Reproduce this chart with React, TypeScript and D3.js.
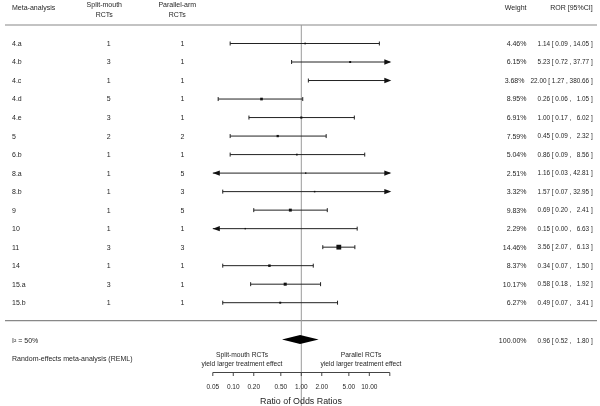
import React, { useEffect, useRef } from 'react';
import * as d3 from 'd3';

const studies = ['4.a', '4.b', '4.c', '4.d', '4.e', '5', '6.b', '8.a', '8.b', '9', '10', '11', '14', '15.a', '15.b'];
const splitMouthRCTs = [1, 3, 1, 5, 3, 2, 1, 1, 1, 1, 1, 3, 1, 3, 1];
const parallelArmRCTs = [1, 1, 1, 1, 1, 2, 1, 5, 3, 5, 1, 3, 1, 1, 1];
const weights = [4.46, 6.15, 3.68, 8.95, 6.91, 7.59, 5.04, 2.51, 3.32, 9.83, 2.29, 14.46, 8.37, 10.17, 6.27];
const estimates = [1.14, 5.23, 22.0, 0.26, 1.0, 0.45, 0.86, 1.16, 1.57, 0.69, 0.15, 3.56, 0.34, 0.58, 0.49];
const lowers = [0.09, 0.72, 1.27, 0.06, 0.17, 0.09, 0.09, 0.03, 0.07, 0.2, 0.0, 2.07, 0.07, 0.18, 0.07];
const uppers = [14.05, 37.77, 380.66, 1.05, 6.02, 2.32, 8.56, 42.81, 32.95, 2.41, 6.63, 6.13, 1.5, 1.92, 3.41];

const summaryWeight = 100.0;
const summaryEstimate = 0.96;
const summaryLower = 0.52;
const summaryUpper = 1.8;
const heterogeneityI2 = 50;

const tickValues = [0.05, 0.1, 0.2, 0.5, 1, 2, 5, 10, 20];
const tickLabels = ['0.05', '0.10', '0.20', '0.50', '1.00', '2.00', '5.00', '10.00', ''];

const FONT = "'Liberation Sans', Arial, Helvetica, sans-serif";
const TXT = '#262626';

function fmtROR(est: number, lo: number, hi: number): string {
  const f = (v: number) => v.toFixed(2);
  const pad = (v: number) => (v < 10 ? '\u2007' : '') + f(v);
  return `${f(est)} [ ${f(lo)} , ${pad(hi)} ]`;
}

export default function App() {
  const ref = useRef<SVGSVGElement | null>(null);

  useEffect(() => {
    document.body.style.margin = '0';
    const svg = d3.select(ref.current);
    svg.selectAll('*').remove();

    const x = d3.scaleLog().domain([0.05, 20]).range([212.8, 389.8]);
    const y = d3.scaleLinear().domain([0, studies.length - 1]).range([43.5, 302.7]);
    const yS = 339.5;
    const [xmin, xmax] = x.domain();

    const g = svg.append('g').attr('font-family', FONT).attr('fill', TXT);

    const rorText = (sel: any, yy: number, s: string) => {
      const t = sel.append('text').attr('x', 592.7).attr('y', yy).attr('dy', '0.35em').attr('text-anchor', 'end')
        .attr('font-size', 6.4).style('white-space', 'pre').text(s);
      return (t.node() as SVGTextElement).getComputedTextLength();
    };

    // headers
    const hdr = g.append('g').attr('font-size', 7).attr('fill', TXT);
    hdr.append('text').attr('x', 12).attr('y', 9.5).text('Meta-analysis');
    hdr.append('text').attr('x', 104.3).attr('y', 6.5).attr('text-anchor', 'middle').text('Split-mouth');
    hdr.append('text').attr('x', 104.3).attr('y', 16.5).attr('text-anchor', 'middle').text('RCTs');
    hdr.append('text').attr('x', 177.3).attr('y', 6.5).attr('text-anchor', 'middle').text('Parallel-arm');
    hdr.append('text').attr('x', 177.3).attr('y', 16.5).attr('text-anchor', 'middle').text('RCTs');
    hdr.append('text').attr('x', 526.5).attr('y', 9.5).attr('text-anchor', 'end').text('Weight');
    hdr.append('text').attr('x', 592.7).attr('y', 9.5).attr('text-anchor', 'end').text('ROR [95%CI]');

    // rules
    g.append('line').attr('x1', 5).attr('x2', 597).attr('y1', 25).attr('y2', 25).attr('stroke', '#888').attr('stroke-width', 1.2);
    g.append('line').attr('x1', 5).attr('x2', 597).attr('y1', 320.7).attr('y2', 320.7).attr('stroke', '#888').attr('stroke-width', 1.2);

    // reference line
    g.append('line').attr('x1', x(1)).attr('x2', x(1)).attr('y1', 25).attr('y2', 406).attr('stroke', '#9a9a9a').attr('stroke-width', 1);

    const size = d3.scalePow().exponent(2).domain([2.29, 14.46]).range([1.4, 4.8]);

    studies.forEach((s, i) => {
      const yy = y(i);
      const row = g.append('g').attr('font-size', 7).attr('fill', TXT);
      row.append('text').attr('x', 12).attr('y', yy).attr('dy', '0.35em').text(s);
      row.append('text').attr('x', 108.7).attr('y', yy).attr('dy', '0.35em').attr('text-anchor', 'middle').text(splitMouthRCTs[i]);
      row.append('text').attr('x', 182.5).attr('y', yy).attr('dy', '0.35em').attr('text-anchor', 'middle').text(parallelArmRCTs[i]);
      const w = rorText(row, yy, fmtROR(estimates[i], lowers[i], uppers[i]));
      const wx = Math.min(526.5, 592.7 - w - 6);
      row.append('text').attr('x', wx).attr('y', yy).attr('dy', '0.35em').attr('text-anchor', 'end').text(weights[i].toFixed(2) + '%');

      // CI
      const lo = Math.max(lowers[i], xmin);
      const hi = Math.min(uppers[i], xmax);
      const x1 = x(lo);
      const x2 = x(hi);
      const ci = g.append('g').attr('stroke', '#222').attr('fill', '#111');
      ci.append('line').attr('x1', x1).attr('x2', x2).attr('y1', yy).attr('y2', yy).attr('stroke-width', 1);
      if (lowers[i] < xmin) {
        ci.append('path').attr('d', `M${x1},${yy}l7,-2.7l0,5.4z`).attr('stroke', 'none');
      } else {
        ci.append('line').attr('x1', x1).attr('x2', x1).attr('y1', yy - 2).attr('y2', yy + 2);
      }
      if (uppers[i] > xmax) {
        ci.append('path').attr('d', `M${x2 + 1.5},${yy}l-7,-2.7l0,5.4z`).attr('stroke', 'none');
      } else {
        ci.append('line').attr('x1', x2).attr('x2', x2).attr('y1', yy - 2).attr('y2', yy + 2);
      }
      if (estimates[i] >= xmin && estimates[i] <= xmax) {
        const sz = size(weights[i]);
        ci.append('rect').attr('x', x(estimates[i]) - sz / 2).attr('y', yy - sz / 2).attr('width', sz).attr('height', sz).attr('stroke', 'none');
      }
    });

    // summary
    const sm = g.append('g').attr('font-size', 7).attr('fill', TXT);
    sm.append('text').attr('x', 12).attr('y', yS + 1.3).attr('dy', '0.35em').text(`I\u00b2 = ${heterogeneityI2}%`);
    sm.append('text').attr('x', 12).attr('y', 358.5).attr('dy', '0.35em').text('Random-effects meta-analysis (REML)');
    sm.append('text').attr('x', 526.5).attr('y', yS + 1.3).attr('dy', '0.35em').attr('text-anchor', 'end').text(summaryWeight.toFixed(2) + '%');
    rorText(sm, yS + 1.3, fmtROR(summaryEstimate, summaryLower, summaryUpper));
    g.append('path')
      .attr('d', `M${x(summaryLower)},${yS}L${x(summaryEstimate)},${yS - 4.5}L${x(summaryUpper)},${yS}L${x(summaryEstimate)},${yS + 4.5}Z`)
      .attr('fill', '#000');

    // direction labels
    const dl = g.append('g').attr('font-size', 6.7).attr('fill', TXT).attr('text-anchor', 'middle');
    dl.append('text').attr('x', 242).attr('y', 355).attr('dy', '0.35em').text('Split-mouth RCTs');
    dl.append('text').attr('x', 242).attr('y', 363.3).attr('dy', '0.35em').text('yield larger treatment effect');
    dl.append('text').attr('x', 361).attr('y', 355).attr('dy', '0.35em').text('Parallel RCTs');
    dl.append('text').attr('x', 361).attr('y', 363.3).attr('dy', '0.35em').text('yield larger treatment effect');

    // axis
    const axY = 372.5;
    const ax = g.append('g').attr('stroke', '#444');
    ax.append('line').attr('x1', x(xmin)).attr('x2', x(xmax)).attr('y1', axY).attr('y2', axY);
    tickValues.forEach((t, k) => {
      ax.append('line').attr('x1', x(t)).attr('x2', x(t)).attr('y1', axY).attr('y2', axY + 3.5);
      g.append('text').attr('x', x(t)).attr('y', 386.7).attr('dy', '0.35em').attr('text-anchor', 'middle')
        .attr('font-size', 6.5).attr('fill', TXT).text(tickLabels[k]);
    });
    g.append('text').attr('x', 301).attr('y', 400.7).attr('dy', '0.35em').attr('text-anchor', 'middle')
      .attr('font-size', 8.9).attr('fill', TXT).text('Ratio of Odds Ratios');
  }, []);

  return <svg ref={ref} width={600} height={406} style={{ display: 'block', willChange: 'transform', background: '#fff' }} />;
}
